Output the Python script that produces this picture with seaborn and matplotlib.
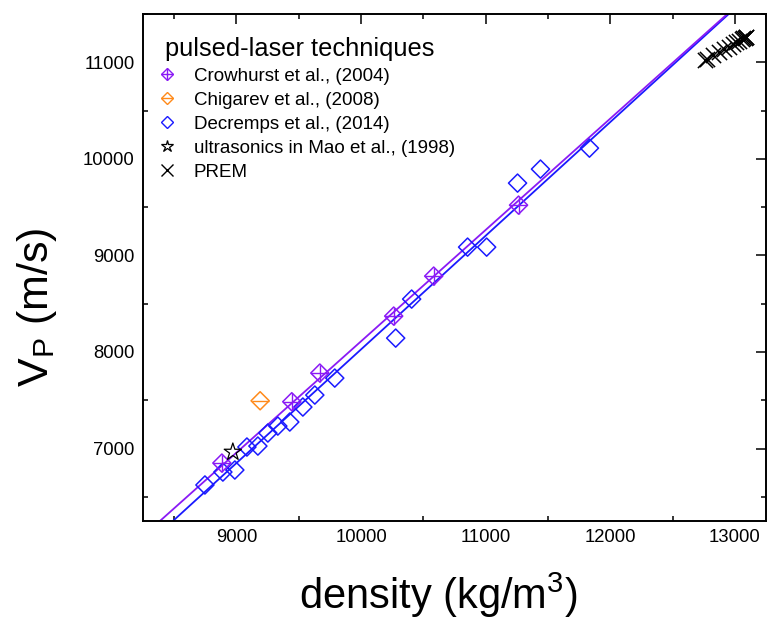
import numpy as np
import pandas as pd
import matplotlib
matplotlib.use("Agg")
import matplotlib.pyplot as plt
from matplotlib.lines import Line2D
from matplotlib.legend_handler import HandlerTuple
from matplotlib.ticker import MultipleLocator
import seaborn as sns

# ---------------- data ----------------
crow_rho = [8883, 9444, 9669, 10262, 10583, 11264]
crow_vp = [6850, 7485, 7782, 8372, 8786, 9521]
crow_xerr = [68, 68, 68, 68, 68, 68]
crow_yerr = [88, 88, 88, 88, 88, 88]

chig_rho = [9190]
chig_vp = [7495]
chig_xerr = [68]

decr_rho = [8747, 8891, 8987, 9084, 9172, 9252, 9332, 9428, 9533, 9629,
            9789, 10278, 10406, 10855, 11008, 11256, 11440, 11833]
decr_vp = [6623, 6757, 6778, 7016, 7026, 7161, 7233, 7275, 7430, 7554,
           7730, 8144, 8548, 9086, 9086, 9749, 9894, 10111]

mao_rho = [8971]
mao_vp = [6964]

prem_rho = [13088.5, 13086.3, 13079.8, 13068.9, 13053.7, 13034.1, 13010.1,
            12981.8, 12949.2, 12912.1, 12870.8, 12825.0, 12775.0, 12763.6]
prem_vp = [11262.2, 11260.6, 11255.9, 11248.1, 11237.1, 11223.0, 11205.8,
           11185.4, 11161.9, 11135.2, 11105.4, 11072.5, 11036.4, 11028.3]

# linear fits (slope, intercept)
crow_fit = (1.153, -3419.0)
decr_fit = (1.177, -3743.0)
fit_range = [8250, 13250]

labels = ["Crowhurst et al., (2004)", "Chigarev et al., (2008)",
          "Decremps et al., (2014)", "ultrasonics in Mao et al., (1998)", "PREM"]
legend_title = "pulsed-laser techniques"

# ---------------- style ----------------
sns.set_theme(style="white")
plt.rcParams['font.family'] = ['Liberation Sans', 'DejaVu Sans']
plt.rcParams['mathtext.fontset'] = 'custom'
plt.rcParams['mathtext.rm'] = 'Liberation Sans'
plt.rcParams['mathtext.it'] = 'Liberation Sans'
for k in ['text.color', 'axes.labelcolor', 'xtick.color', 'ytick.color']:
    plt.rcParams[k] = 'black'

PURPLE = "#8A1AF5"
ORANGE = "#FF8A1A"
BLUE = "#1A1AFF"

fig = plt.figure(figsize=(7.71, 6.2), dpi=100)
ax = fig.add_axes([143/771, 1-521/620, (766-143)/771, (521-14)/620])

# fit lines
for (b, a), col in [(decr_fit, BLUE), (crow_fit, PURPLE)]:
    df_fit = pd.DataFrame({"x": fit_range, "y": [a + b*v for v in fit_range]})
    sns.lineplot(data=df_fit, x="x", y="y", color=col, lw=1.3, ax=ax, legend=False)

mk = 85
# Decremps
sns.scatterplot(x=decr_rho, y=decr_vp, marker="D", s=mk, facecolor="none",
                edgecolor=BLUE, linewidth=1.1, ax=ax, legend=False, zorder=4)
# Crowhurst with error bars
ax.errorbar(crow_rho, crow_vp, xerr=crow_xerr, yerr=crow_yerr, fmt="none",
            ecolor=PURPLE, elinewidth=1.0, capsize=0, zorder=5)
sns.scatterplot(x=crow_rho, y=crow_vp, marker="D", s=mk, facecolor="none",
                edgecolor=PURPLE, linewidth=1.1, ax=ax, legend=False, zorder=5)
# Chigarev
ax.errorbar(chig_rho, chig_vp, xerr=chig_xerr, fmt="none",
            ecolor=ORANGE, elinewidth=1.0, capsize=0, zorder=5)
sns.scatterplot(x=chig_rho, y=chig_vp, marker="D", s=mk, facecolor="none",
                edgecolor=ORANGE, linewidth=1.1, ax=ax, legend=False, zorder=5)
# Mao
sns.scatterplot(x=mao_rho, y=mao_vp, marker="*", s=170, facecolor="none",
                edgecolor="black", linewidth=0.9, ax=ax, legend=False, zorder=6)
# PREM
sns.scatterplot(x=prem_rho, y=prem_vp, marker="x", s=120, color="black",
                linewidth=1.1, ax=ax, legend=False, zorder=6)

ax.set_xlim(8250, 13250)
ax.set_ylim(6250, 11500)
ax.xaxis.set_major_locator(MultipleLocator(1000))
ax.xaxis.set_minor_locator(MultipleLocator(500))
ax.yaxis.set_major_locator(MultipleLocator(1000))
ax.yaxis.set_minor_locator(MultipleLocator(500))
ax.tick_params(which="major", direction="in", length=7.2, width=1.1,
               top=True, right=True, labelsize=13.3, colors="black", pad=6)
ax.tick_params(which="minor", direction="in", length=3.6, width=1.1,
               top=True, right=True, bottom=True, left=True)
for sp in ax.spines.values():
    sp.set_linewidth(1.4)
    sp.set_color("black")

ax.set_xlabel("density (kg/m$^3$)", fontsize=30)
ax.xaxis.set_label_coords((438-143)/623, (521-571)/507)
ax.set_ylabel("V$_\\mathrm{P}$ (m/s)", fontsize=31)
ax.yaxis.set_label_coords((59-143)/623, (521-307)/507)

# legend
lh = 6.5
h_crow = (Line2D([], [], ls="none", marker="D", ms=lh, mfc="none", mec=PURPLE, mew=1.0),
          Line2D([], [], ls="none", marker="+", ms=lh*1.4, mec=PURPLE, mew=1.0))
h_chig = (Line2D([], [], ls="none", marker="D", ms=lh, mfc="none", mec=ORANGE, mew=1.0),
          Line2D([], [], ls="none", marker="_", ms=lh*1.4, mec=ORANGE, mew=1.0))
h_decr = Line2D([], [], ls="none", marker="D", ms=lh, mfc="none", mec=BLUE, mew=1.0)
h_mao = Line2D([], [], ls="none", marker="*", ms=9, mfc="none", mec="black", mew=0.9)
h_prem = Line2D([], [], ls="none", marker="x", ms=8, mec="black", mew=1.0)
leg = ax.legend([h_crow, h_chig, h_decr, h_mao, h_prem], labels,
                handler_map={tuple: HandlerTuple(ndivide=1, pad=0)},
                title=" " + legend_title, title_fontsize=18.3, fontsize=13.5,
                frameon=False, loc="upper left", bbox_to_anchor=(0.0, 0.985),
                handlelength=1.0, handletextpad=0.9, labelspacing=0.37,
                borderaxespad=0.4)
leg._legend_box.align = "left"

fig.savefig("out.png", dpi=100)
